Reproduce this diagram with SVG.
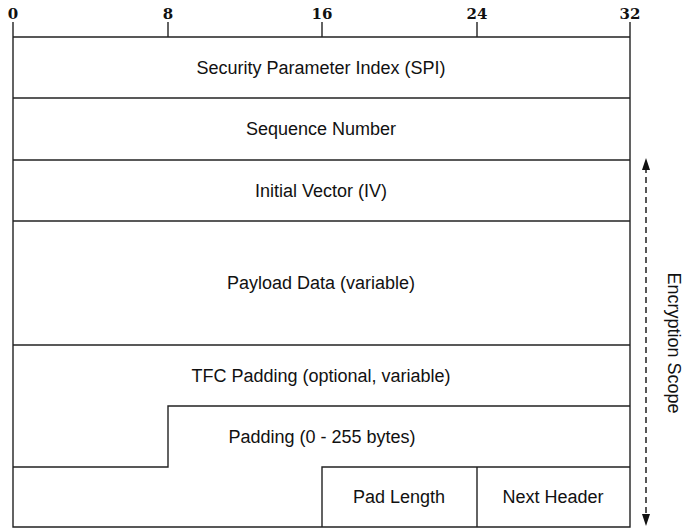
<svg xmlns="http://www.w3.org/2000/svg" width="684" height="529" viewBox="0 0 684 529">
  <style>
    .ln { fill: none; stroke: #222; stroke-width: 1.4; }
    .lbl { font-family: "Liberation Sans", Arial, sans-serif; font-size: 18px; fill: #111; text-anchor: middle; }
    .bit { font-family: "DejaVu Serif", "Liberation Serif", serif; font-size: 15px; font-weight: bold; fill: #111; text-anchor: middle; }
  </style>

  <!-- bit ruler -->
  <g id="ruler">
    <path class="ln" d="M13,37 H630 M13,22 V37 M168,22 V37 M322,22 V37 M477,22 V37 M630,22 V37"/>
    <text class="bit" x="13" y="19">0</text>
    <text class="bit" x="168" y="19">8</text>
    <text class="bit" x="322" y="19">16</text>
    <text class="bit" x="477" y="19">24</text>
    <text class="bit" x="630" y="19">32</text>
  </g>

  <!-- outer frame -->
  <g id="frame">
    <path class="ln" d="M13,37 V527 H630 V37"/>
  </g>

  <g id="spi">
    <path class="ln" d="M13,98 H630"/>
    <text class="lbl" x="321" y="74">Security Parameter Index (SPI)</text>
  </g>
  <g id="seq">
    <path class="ln" d="M13,160 H630"/>
    <text class="lbl" x="321" y="135">Sequence Number</text>
  </g>
  <g id="iv">
    <path class="ln" d="M13,221 H630"/>
    <text class="lbl" x="321" y="197">Initial Vector (IV)</text>
  </g>
  <g id="payload">
    <path class="ln" d="M13,345 H630"/>
    <text class="lbl" x="321" y="289">Payload Data (variable)</text>
  </g>
  <g id="tfc">
    <text class="lbl" x="321" y="382">TFC Padding (optional, variable)</text>
  </g>
  <g id="padding">
    <path class="ln" d="M630,406 H168 V467 H13"/>
    <text class="lbl" x="322" y="443">Padding (0 - 255 bytes)</text>
  </g>
  <g id="padlen">
    <path class="ln" d="M322,527 V467 H630"/>
    <text class="lbl" x="399" y="503">Pad Length</text>
  </g>
  <g id="nexthdr">
    <path class="ln" d="M477,467 V527"/>
    <text class="lbl" x="553" y="503">Next Header</text>
  </g>

  <!-- encryption scope connector -->
  <g id="connectors">
    <path d="M646,167 V517" fill="none" stroke="#111" stroke-width="1.4" stroke-dasharray="6,4"/>
    <path d="M646,158 L642,170 L650,170 z" fill="#111"/>
    <path d="M646,526 L642,514 L650,514 z" fill="#111"/>
  </g>
  <g id="scope">
    <text class="lbl" transform="translate(668,343) rotate(90)">Encryption Scope</text>
  </g>
</svg>
